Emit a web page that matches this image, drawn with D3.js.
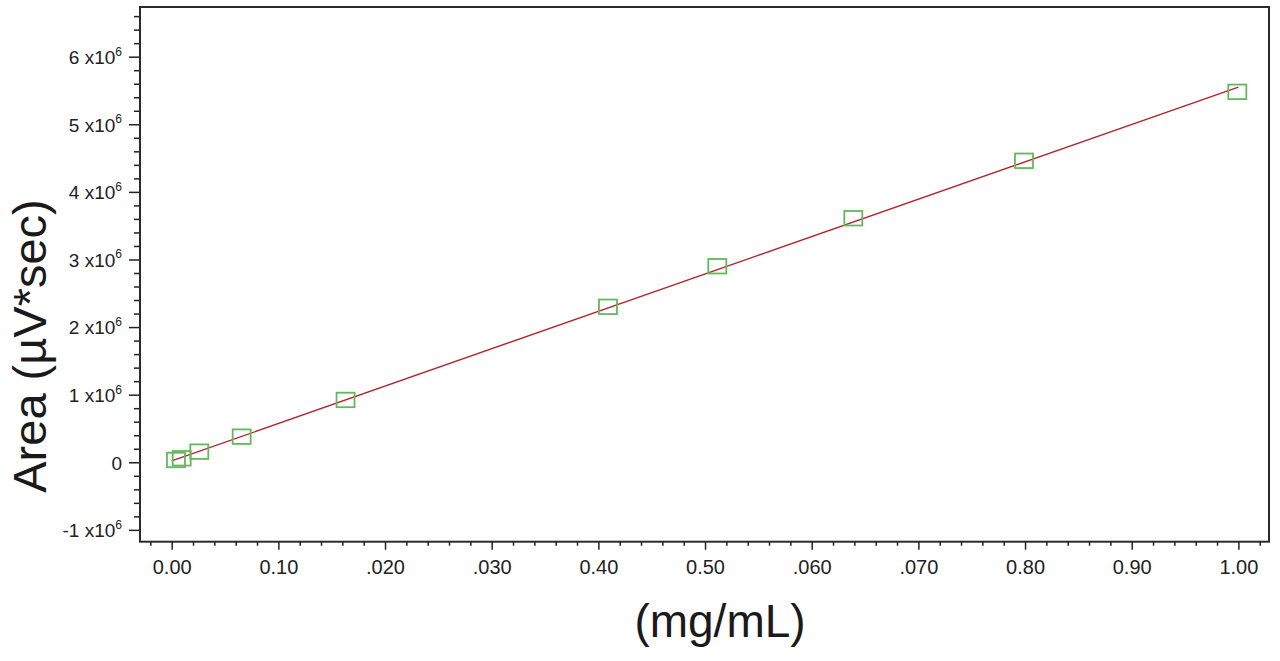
<!DOCTYPE html>
<html>
<head>
<meta charset="utf-8">
<script src="https://cdn.jsdelivr.net/npm/d3@7"></script>
<style>
  body { margin: 0; background: #fff; }
  svg { display: block; font-family: "Liberation Sans", Arial, sans-serif; }
</style>
</head>
<body>
<svg id="chart" width="1280" height="661"></svg>
<script>
// calibration standards
const concentration = [0.004, 0.0094, 0.0259, 0.0656, 0.163, 0.409, 0.5115, 0.639, 0.799, 0.999];
const area = [0.034e6, 0.059e6, 0.157e6, 0.379e6, 0.922e6, 2.30e6, 2.90e6, 3.61e6, 4.46e6, 5.48e6];

// fitted line end points
const fitX = [0, 1.0];
const fitY = [0.02e6, 5.55e6];

const xTickValues = [0, 0.1, 0.2, 0.3, 0.4, 0.5, 0.6, 0.7, 0.8, 0.9, 1.0];
const xTickLabels = ['0.00', '0.10', '.020', '.030', '0.40', '0.50', '.060', '.070', '0.80', '0.90', '1.00'];
const yTickValues = [-1e6, 0, 1e6, 2e6, 3e6, 4e6, 5e6, 6e6];
const yTickLabels = ['-1', '0', '1', '2', '3', '4', '5', '6'];

const svg = d3.select('#chart');
const plotLeft = 140, plotRight = 1269, plotTop = 7, plotBottom = 541.7;

const x = d3.scaleLinear().domain([-0.0297, 1.0287]).range([plotLeft, plotRight]);
const y = d3.scaleLinear().domain([-1.175e6, 6.735e6]).range([plotBottom, plotTop]);

const xMinor = d3.range(-0.02, 1.03, 0.02).filter(v => Math.abs(Math.round(v * 10) - v * 10) > 1e-6);
const yMinor = d3.range(-1e6, 6.7e6, 0.2e6).filter(v => Math.abs(Math.round(v / 1e6) - v / 1e6) > 1e-6);

// minor ticks
svg.append('g')
  .attr('transform', 'translate(0,' + plotBottom + ')')
  .call(d3.axisBottom(x).tickValues(xMinor).tickFormat('').tickSize(4).tickSizeOuter(0))
  .call(g => g.select('.domain').remove());
svg.append('g')
  .attr('transform', 'translate(' + plotLeft + ',0)')
  .call(d3.axisLeft(y).tickValues(yMinor).tickFormat('').tickSize(6).tickSizeOuter(0))
  .call(g => g.select('.domain').remove());

// major x ticks
const xAxis = svg.append('g')
  .attr('transform', 'translate(0,' + plotBottom + ')')
  .call(d3.axisBottom(x).tickValues(xTickValues)
    .tickFormat((d, i) => xTickLabels[i]).tickSize(8).tickSizeOuter(0).tickPadding(10));
xAxis.select('.domain').remove();
xAxis.selectAll('text')
  .style('font-size', '20px')
  .style('font-family', '"Liberation Sans", Arial, sans-serif')
  .attr('fill', '#222');

// major y ticks
const yAxis = svg.append('g')
  .attr('transform', 'translate(' + plotLeft + ',0)')
  .call(d3.axisLeft(y).tickValues(yTickValues).tickFormat('').tickSize(11).tickSizeOuter(0));
yAxis.select('.domain').remove();

yAxis.selectAll('.tick').each(function (d, i) {
  const t = d3.select(this).append('text')
    .attr('x', -18)
    .attr('dy', '0.36em')
    .attr('text-anchor', 'end')
    .attr('fill', '#222')
    .style('font-size', '19px')
    .style('font-family', '"Liberation Sans", Arial, sans-serif');
  if (d === 0) {
    t.text(yTickLabels[i]);
  } else {
    t.append('tspan').text(yTickLabels[i] + ' x10');
    t.append('tspan').style('font-size', '12px').attr('dy', '-0.7em').text('6');
  }
});

svg.selectAll('.tick line').attr('stroke', '#222').attr('stroke-width', 1.5);

// frame
svg.append('rect')
  .attr('x', plotLeft).attr('y', plotTop)
  .attr('width', plotRight - plotLeft).attr('height', plotBottom - plotTop)
  .attr('fill', 'none').attr('stroke', '#2a2a2a').attr('stroke-width', 2);

// fit line
svg.append('line')
  .attr('x1', x(fitX[0])).attr('y1', y(fitY[0]))
  .attr('x2', x(fitX[1])).attr('y2', y(fitY[1]))
  .attr('stroke', '#b3222b').attr('stroke-width', 1.4);

// standards
const w = 18, h = 14.5;
svg.append('g').selectAll('rect')
  .data(concentration)
  .enter()
  .append('rect')
  .attr('x', (d) => x(d) - w / 2)
  .attr('y', (d, i) => y(area[i]) - h / 2)
  .attr('width', w)
  .attr('height', h)
  .attr('fill', 'none')
  .attr('stroke', '#62b95a')
  .attr('stroke-width', 1.8);

// axis titles
svg.append('text')
  .attr('transform', 'translate(46,346) rotate(-90)')
  .attr('text-anchor', 'middle')
  .attr('font-size', 47)
  .attr('fill', '#1a1a1a')
  .text('Area (µV*sec)');

svg.append('text')
  .attr('x', 720).attr('y', 637)
  .attr('text-anchor', 'middle')
  .attr('font-size', 46)
  .attr('fill', '#1a1a1a')
  .text('(mg/mL)');
</script>
</body>
</html>
